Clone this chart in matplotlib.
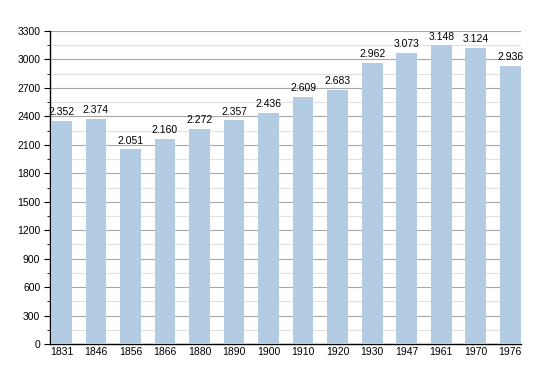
import numpy as np
import matplotlib.pyplot as plt
from matplotlib.ticker import MultipleLocator

years = ['1831', '1846', '1856', '1866', '1880', '1890', '1900',
         '1910', '1920', '1930', '1947', '1961', '1970', '1976']
population = [2352, 2374, 2051, 2160, 2272, 2357, 2436,
              2609, 2683, 2962, 3073, 3148, 3124, 2936]

plt.rcParams['font.family'] = 'Liberation Sans'

fig = plt.figure(figsize=(5.5, 3.73), dpi=100)
ax = fig.add_axes([50/550, 29/373, 471/550, 313/373])

x = np.arange(len(years))
ax.bar(x, population, width=0.6, color='#b3cce4', zorder=3)

# value labels with dot as thousands separator
for xi, v in zip(x, population):
    txt = f"{v:,}".replace(',', '.')
    ax.text(xi, v + 40, txt, ha='center', va='bottom', fontsize=7.5, zorder=4)

ax.set_xlim(-0.33, 13.31)
ax.set_ylim(0, 3300)
ax.yaxis.set_major_locator(MultipleLocator(300))
ax.yaxis.set_minor_locator(MultipleLocator(150))
ax.grid(axis='y', which='major', color='#a8a8a8', linewidth=0.8, zorder=1)
ax.grid(axis='y', which='minor', color='#e2e2e2', linewidth=0.8, zorder=1)

ax.set_xticks(x)
ax.set_xticklabels(years)
ax.tick_params(axis='x', length=0, labelsize=7.5, pad=2)
ax.tick_params(axis='y', which='major', length=4, labelsize=7.5, pad=3)
ax.tick_params(axis='y', which='minor', length=2)

for s in ['top', 'right']:
    ax.spines[s].set_visible(False)
ax.spines['left'].set_linewidth(1)
ax.spines['bottom'].set_linewidth(1)

fig.savefig('out.png', dpi=100)
